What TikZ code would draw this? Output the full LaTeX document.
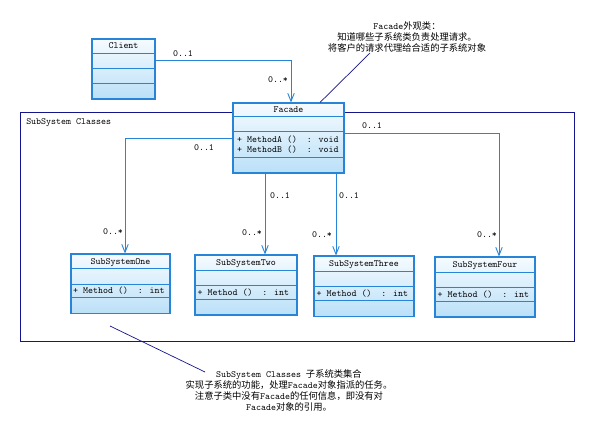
\documentclass[tikz,border=0pt]{standalone}
\usepackage{fontspec}
\newfontfamily\cjk{Noto Sans CJK SC}
\usetikzlibrary{arrows.meta,calc}
\definecolor{boxline}{RGB}{40,132,215}
\definecolor{boxtop}{RGB}{246,251,255}
\definecolor{boxbot}{RGB}{186,224,248}
\definecolor{navyline}{RGB}{20,20,140}
\newcommand{\zhtxt}[1]{{\cjk\fontsize{9.3}{11}\selectfont #1}}
\tikzset{
  cls/.style={draw=boxline, line width=1.1pt, top color=boxtop, bottom color=boxbot, rectangle, inner sep=0pt},
  sep/.style={draw=boxline, line width=0.8pt},
  lbl/.style={font=\ttfamily\fontsize{9.5}{11}\selectfont, inner sep=0pt, text height=5.5pt, text depth=0pt},
  assoc/.style={draw=boxline, line width=0.9pt, -{Straight Barb[length=8pt,width=6.5pt,line width=0.9pt]}},
  pkgbox/.style={draw=navyline, line width=0.9pt},
  noteline/.style={draw=navyline, line width=0.7pt},
  notetext/.style={font=\ttfamily\fontsize{9.5}{11}\selectfont, align=center, inner sep=0pt}
}
\begin{document}
\begin{tikzpicture}[x=1pt,y=-1pt]
\useasboundingbox[fill=white] (0,0) rectangle (593,427);

% package
\node[pkgbox, rectangle, minimum width=554pt, minimum height=229pt, inner sep=0pt] (pkg) at (297,226.5) {};
\node[lbl, anchor=west] (pkglbl) at ($(pkg.north west)+(6.5,10)$) {SubSystem Classes};

% Client
\node[cls, minimum width=63pt, minimum height=60pt] (client) at (123.5,69) {};
\draw[sep] ($(client.north west)+(0,15)$) -- ($(client.north east)+(0,15)$);
\draw[sep] ($(client.north west)+(0,30)$) -- ($(client.north east)+(0,30)$);
\draw[sep] ($(client.north west)+(0,45)$) -- ($(client.north east)+(0,45)$);
\node[lbl] (clientt) at ($(client.north)+(0,7.5)$) {Client};

% Facade
\node[cls, minimum width=111pt, minimum height=70pt] (facade) at (288.5,138) {};
\draw[sep] ($(facade.north west)+(0,14)$) -- ($(facade.north east)+(0,14)$);
\draw[sep] ($(facade.north west)+(0,29)$) -- ($(facade.north east)+(0,29)$);
\draw[sep] ($(facade.north west)+(0,55)$) -- ($(facade.north east)+(0,55)$);
\node[lbl] (facadet) at ($(facade.north)+(0,7)$) {Facade};
\node[lbl, anchor=west] (fm1) at ($(facade.north west)+(4.5,37)$) {+ MethodA ()\ \ : void};
\node[lbl, anchor=west] (fm2) at ($(facade.north west)+(4.5,47.7)$) {+ MethodB ()\ \ : void};

% SubSystemOne
\node[cls, minimum width=99pt, minimum height=59.5pt] (sub1) at (120.5,283.75) {};
\draw[sep] ($(sub1.north west)+(0,15.3)$) -- ($(sub1.north east)+(0,15.3)$);
\draw[sep] ($(sub1.north west)+(0,31)$) -- ($(sub1.north east)+(0,31)$);
\draw[sep] ($(sub1.north west)+(0,44.3)$) -- ($(sub1.north east)+(0,44.3)$);
\node[lbl] (sub1t) at ($(sub1.north)+(0,8)$) {SubSystemOne};
\node[lbl, anchor=west] (sub1m) at ($(sub1.north west)+(2.5,37.7)$) {+ Method ()\ \ : int};

% SubSystemTwo
\node[cls, minimum width=102pt, minimum height=60pt] (sub2) at (246,285) {};
\draw[sep] ($(sub2.north west)+(0,15.5)$) -- ($(sub2.north east)+(0,15.5)$);
\draw[sep] ($(sub2.north west)+(0,30.5)$) -- ($(sub2.north east)+(0,30.5)$);
\draw[sep] ($(sub2.north west)+(0,45)$) -- ($(sub2.north east)+(0,45)$);
\node[lbl] (sub2t) at ($(sub2.north)+(0,8)$) {SubSystemTwo};
\node[lbl, anchor=west] (sub2m) at ($(sub2.north west)+(3,38)$) {+ Method ()\ \ : int};

% SubSystemThree
\node[cls, minimum width=100pt, minimum height=60.5pt] (sub3) at (364,286.25) {};
\draw[sep] ($(sub3.north west)+(0,15.5)$) -- ($(sub3.north east)+(0,15.5)$);
\draw[sep] ($(sub3.north west)+(0,31)$) -- ($(sub3.north east)+(0,31)$);
\draw[sep] ($(sub3.north west)+(0,45)$) -- ($(sub3.north east)+(0,45)$);
\node[lbl] (sub3t) at ($(sub3.north)+(0,8)$) {SubSystemThree};
\node[lbl, anchor=west] (sub3m) at ($(sub3.north west)+(3,38)$) {+ Method ()\ \ : int};

% SubSystemFour
\node[cls, minimum width=100pt, minimum height=60pt] (sub4) at (485,287) {};
\draw[sep] ($(sub4.north west)+(0,15.5)$) -- ($(sub4.north east)+(0,15.5)$);
\draw[sep] ($(sub4.north west)+(0,31)$) -- ($(sub4.north east)+(0,31)$);
\draw[sep] ($(sub4.north west)+(0,45)$) -- ($(sub4.north east)+(0,45)$);
\node[lbl] (sub4t) at ($(sub4.north)+(0,8)$) {SubSystemFour};
\node[lbl, anchor=west] (sub4m) at ($(sub4.north west)+(3,38)$) {+ Method ()\ \ : int};

% connectors
\draw[assoc] (client.east |- 0,60) -| (facade.north -| 291,0);
\node[lbl] (m1a) at (183,54) {0..1};
\node[lbl] (m1b) at (278,80) {0..*};

\draw[assoc] (facade.west |- 0,138) -| (sub1.north -| 125,0);
\node[lbl] (m2a) at (204,147.5) {0..1};
\node[lbl] (m2b) at (113,232) {0..*};

\draw[assoc] (facade.south -| 265,0) -- (sub2.north -| 265,0);
\node[lbl] (m3a) at (280,195.5) {0..1};
\node[lbl] (m3b) at (252,233) {0..*};

\draw[assoc] (facade.south -| 336,0) -- (sub3.north -| 336,0);
\node[lbl] (m4a) at (349,195.5) {0..1};
\node[lbl] (m4b) at (322,235) {0..*};

\draw[assoc] (facade.east |- 0,133) -| (sub4.north -| 499,0);
\node[lbl] (m5a) at (372,126) {0..1};
\node[lbl] (m5b) at (487,235) {0..*};

% notes
\node[notetext] (note1) at (407,36.5) {Facade\zhtxt{外观类：}\\ \zhtxt{知道哪些子系统类负责处理请求。}\\ \zhtxt{将客户的请求代理给合适的子系统对象}};
\coordinate (n1) at (370,53);
\draw[noteline] (n1) -- (facade.north -| 320,0);

\node[notetext] (note2) at (289,390.5) {SubSystem Classes \zhtxt{子系统类集合}\\ \zhtxt{实现子系统的功能，处理}Facade\zhtxt{对象指派的任务。}\\ \zhtxt{注意子类中没有}Facade\zhtxt{的任何信息，即没有对}\\ Facade\zhtxt{对象的引用。}};
\coordinate (n2a) at (110,326);
\coordinate (n2b) at (205,372);
\draw[noteline] (n2a) -- (n2b);
\end{tikzpicture}
\end{document}
